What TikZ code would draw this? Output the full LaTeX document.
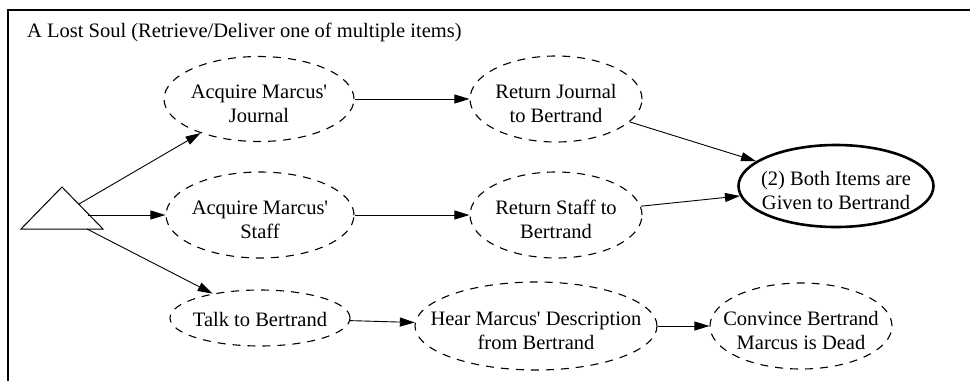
\documentclass[tikz,border=0pt]{standalone}
\usepackage{fontspec}
\setmainfont{Liberation Serif}
\usetikzlibrary{shapes.geometric,arrows.meta}
\newcommand\etext[2][-12pt]{\smash{\makebox[0pt]{\raisebox{#1}{\begin{tabular}{@{}c@{}}#2\end{tabular}}}}}
\begin{document}
\begin{tikzpicture}[x=1pt,y=-1pt,
  every node/.style={font=\fontsize{20.5}{24}\selectfont},
  task/.style={ellipse, draw, dash pattern=on 8pt off 7pt, line width=1.1pt, inner sep=0pt},
  goal/.style={ellipse, draw, line width=2.6pt, inner sep=0pt},
  arr/.style={-{Triangle[length=15pt,width=9pt]}, line width=0.9pt},
  frame/.style={line width=1.5pt},
  tri/.style={draw, line width=1pt}]
\useasboundingbox (0,0) rectangle (970,381);
\draw[frame] (8,381) -- (8,10) -- (970,10);
\node[anchor=base west, inner sep=0pt] (title) at (27,37) {A Lost Soul (Retrieve/Deliver one of multiple items)};

% start triangle
\coordinate (ta) at (62,187);
\coordinate (tr) at (103,229);
\coordinate (tl) at (21,229);
\draw[tri] (ta) -- (tr) -- (tl) -- cycle;
\coordinate (t1) at (79,204);
\coordinate (t2) at (88,215);
\coordinate (t3) at (87,229);

\node[task, minimum width=190pt, minimum height=85pt] (aj) at (259,99) {\etext{Acquire Marcus\textquotesingle\\Journal}};
\node[task, minimum width=188pt, minimum height=86pt] (as) at (260,215) {\etext{Acquire Marcus\textquotesingle\\Staff}};
\node[task, minimum width=180pt, minimum height=56pt] (tb) at (260,318) {\etext[-9pt]{Talk to Bertrand}};
\node[task, minimum width=172pt, minimum height=86pt] (rj) at (556,99) {\etext{Return Journal\\to Bertrand}};
\node[task, minimum width=172pt, minimum height=86pt] (rs) at (556,215) {\etext{Return Staff to\\Bertrand}};
\node[goal, minimum width=195pt, minimum height=82pt] (both) at (836,186) {\etext{(2) Both Items are\\Given to Bertrand}};
\node[task, minimum width=242pt, minimum height=88pt] (hear) at (536,326) {\etext{Hear Marcus\textquotesingle\ Description\\from Bertrand}};
\node[task, minimum width=182pt, minimum height=86pt] (conv) at (801,326) {\etext{Convince Bertrand\\Marcus is Dead}};

\draw[arr] (t1) -- (aj);
\draw[arr] (t2) -- (as);
\draw[arr] (t3) -- (tb);
\draw[arr] (aj) -- (rj);
\draw[arr] (as) -- (rs);
\draw[arr] (rj) -- (both);
\draw[arr] (rs) -- (both);
\draw[arr] (tb) -- (hear);
\draw[arr] (hear) -- (conv);
\end{tikzpicture}
\end{document}
